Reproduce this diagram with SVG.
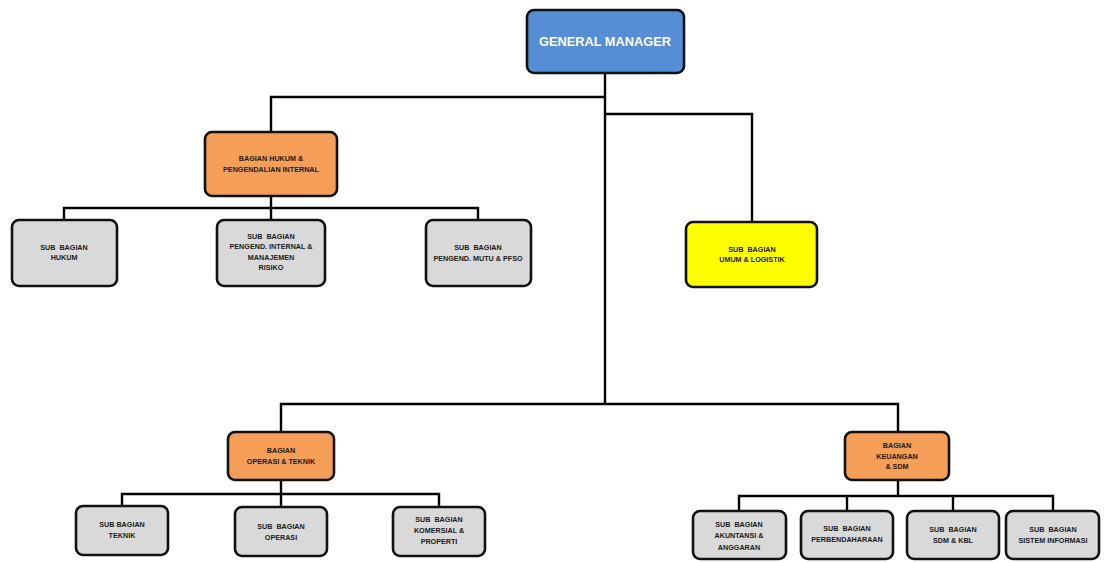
<svg xmlns="http://www.w3.org/2000/svg" width="1104" height="563" viewBox="0 0 1104 563">
<style>
.box{stroke:#111;stroke-width:2.6}
.gm{fill:#558ed5}
.or{fill:#f59e58}
.gr{fill:#d9d9d9}
.ye{fill:#ffff00}
text{font-family:"Liberation Sans",Arial,sans-serif;font-weight:bold;font-size:7.2px;fill:#1a1a1a;text-anchor:middle;white-space:pre}
.big{font-size:12.8px;fill:#fff}
.conn{fill:none;stroke:#000;stroke-width:2.4}
</style>
<rect width="1104" height="563" fill="#fff"/>
<g id="connectors" class="conn">
<path d="M605 73V404"/>
<path d="M605 97H271V132"/>
<path d="M605 114H752V222"/>
<path d="M271 196V208"/>
<path d="M64 220V208H478V220"/>
<path d="M271 208V220"/>
<path d="M281 432V404H898V432"/>
<path d="M281 480V494"/>
<path d="M122 507V494H439V507"/>
<path d="M281 494V507"/>
<path d="M898 480V496"/>
<path d="M739 511V496H1053V511"/>
<path d="M847 496V511"/>
<path d="M953 496V511"/>
</g>
<g id="gm"><rect class="box gm" x="527" y="10" width="157" height="63" rx="7"/><text class="big" x="605" y="46">GENERAL MANAGER</text></g>
<g id="hukum"><rect class="box or" x="205" y="132" width="132" height="64" rx="7"/><text x="271" y="161">BAGIAN HUKUM &amp;</text><text x="271" y="171.5">PENGENDALIAN INTERNAL</text></g>
<g id="sb-hukum"><rect class="box gr" x="12" y="220" width="105" height="66" rx="7"/><text x="64" y="249.5">SUB  BAGIAN</text><text x="64" y="260">HUKUM</text></g>
<g id="sb-pengend"><rect class="box gr" x="217" y="220" width="108" height="66" rx="7"/><text x="271" y="238.5">SUB  BAGIAN</text><text x="271" y="249">PENGEND. INTERNAL &amp;</text><text x="271" y="259.5">MANAJEMEN</text><text x="271" y="270">RISIKO</text></g>
<g id="sb-mutu"><rect class="box gr" x="426" y="220" width="105" height="66" rx="7"/><text x="478" y="250">SUB  BAGIAN</text><text x="478" y="260.5">PENGEND. MUTU &amp; PFSO</text></g>
<g id="sb-umum"><rect class="box ye" x="686" y="222" width="131" height="65" rx="7"/><text x="752" y="251.5">SUB  BAGIAN</text><text x="752" y="262">UMUM &amp; LOGISTIK</text></g>
<g id="operasi"><rect class="box or" x="228" y="432" width="106" height="48" rx="7"/><text x="281" y="452.5">BAGIAN</text><text x="281" y="464">OPERASI &amp; TEKNIK</text></g>
<g id="keuangan"><rect class="box or" x="845" y="432" width="104" height="48" rx="7"/><text x="897" y="447.5">BAGIAN</text><text x="897" y="458.5">KEUANGAN</text><text x="897" y="469">&amp; SDM</text></g>
<g id="sb-teknik"><rect class="box gr" x="76" y="506" width="92" height="49" rx="7"/><text x="122" y="526.5">SUB BAGIAN</text><text x="122" y="537.5">TEKNIK</text></g>
<g id="sb-operasi"><rect class="box gr" x="235" y="507" width="92" height="49" rx="7"/><text x="281" y="528.5">SUB  BAGIAN</text><text x="281" y="539.5">OPERASI</text></g>
<g id="sb-komersial"><rect class="box gr" x="393" y="507" width="92" height="49" rx="7"/><text x="439" y="521.5">SUB  BAGIAN</text><text x="439" y="532.5">KOMERSIAL &amp;</text><text x="439" y="543.5">PROPERTI</text></g>
<g id="sb-akuntansi"><rect class="box gr" x="693" y="511" width="93" height="48" rx="7"/><text x="739" y="526.5">SUB  BAGIAN</text><text x="739" y="538">AKUNTANSI &amp;</text><text x="739" y="549.5">ANGGARAN</text></g>
<g id="sb-perbendaharaan"><rect class="box gr" x="801" y="511" width="92" height="48" rx="7"/><text x="847" y="530.5">SUB  BAGIAN</text><text x="847" y="541.5">PERBENDAHARAAN</text></g>
<g id="sb-sdm"><rect class="box gr" x="907" y="511" width="92" height="48" rx="7"/><text x="953" y="531.5">SUB  BAGIAN</text><text x="953" y="542.5">SDM &amp; KBL</text></g>
<g id="sb-sistem"><rect class="box gr" x="1006" y="511" width="93" height="48" rx="7"/><text x="1053" y="531.5">SUB  BAGIAN</text><text x="1053" y="542.5">SISTEM INFORMASI</text></g>
</svg>
